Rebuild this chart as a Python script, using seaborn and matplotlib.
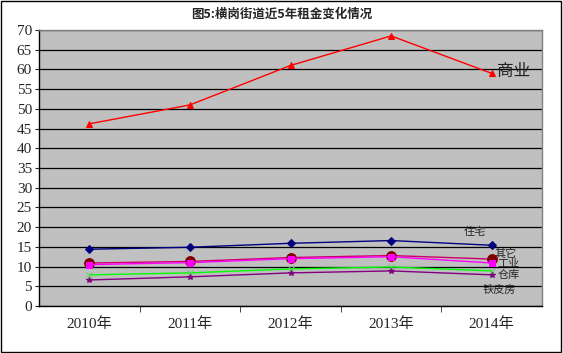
import numpy as np
import pandas as pd
import matplotlib
matplotlib.use("Agg")
import matplotlib.pyplot as plt
import seaborn as sns

years = ['2010年', '2011年', '2012年', '2013年', '2014年']
shangye = [46.2, 51, 61, 68.5, 59]
zhuzhai = [14.4, 14.9, 15.9, 16.6, 15.4]
qita = [10.9, 11.3, 12.3, 12.8, 11.9]
gongye = [10.5, 11.0, 12.0, 12.5, 10.9]
cangku = [7.9, 8.4, 9.4, 9.9, 8.9]
tiepifang = [6.6, 7.4, 8.4, 8.9, 7.9]

series_names = ['商业', '住宅', '其它', '工业', '仓库', '铁皮房']
series_vals = [shangye, zhuzhai, qita, gongye, cangku, tiepifang]

sns.set_style("white")
plt.rcParams['font.family'] = ['Liberation Serif', 'Noto Sans CJK SC']

fig = plt.figure(figsize=(5.63, 3.53), dpi=100)
ax = fig.add_axes([39 / 563, 1 - 306 / 353, 503 / 563, 276 / 353])
ax.set_facecolor('#C0C0C0')

x = np.arange(len(years))
colors = ['#FF0000', '#000080', '#CC0066', '#FF00FF', '#00FF00', '#800080']
mcolors = ['#FF0000', '#000080', '#800000', '#FF00FF', '#66CC66', '#800080']
markers = ['^', 'D', 'o', 's', 'x', '*']
msizes = [5, 4, 7, 5, 4, 4]

# magenta first so that the dark red line sits on top
order = [4, 5, 3, 2, 1, 0]
for i in order:
    sns.lineplot(x=x, y=series_vals[i], ax=ax, color=colors[i], lw=1.0,
                 marker=markers[i], markersize=msizes[i],
                 markerfacecolor=mcolors[i], markeredgecolor=mcolors[i],
                 legend=False, zorder=3 + i)

ax.set_xlim(-0.5, 4.5)
ax.set_ylim(0, 70)
ax.set_yticks(np.arange(0, 71, 5))
ax.yaxis.grid(True, color='black', lw=0.9)
ax.set_axisbelow(True)
ax.tick_params(axis='y', length=3, labelsize=11, pad=2, left=True)
ax.set_xticks(x)
ax.set_xticklabels(years)
ax.set_xticks(np.arange(0.5, 4.5, 1), minor=True)
ax.tick_params(axis='x', which='major', length=0, labelsize=11, pad=8)
ax.tick_params(axis='x', which='minor', length=4, direction='out', bottom=True)
ax.set_xlabel('')
ax.set_ylabel('')
for s in ['left', 'bottom']:
    ax.spines[s].set_color('black')
    ax.spines[s].set_linewidth(1.0)
for s in ['top', 'right']:
    ax.spines[s].set_color('#808080')
    ax.spines[s].set_linewidth(1.0)

lab_font = ['Noto Sans CJK SC']
ax.text(4.05, 59.5, '商业', fontsize=12, family=lab_font, va='center', ha='left', color='#202020')
ax.text(3.72, 18.8, '住宅', fontsize=8, family=lab_font, va='center', ha='left')
ax.text(4.03, 13.4, '其它', fontsize=8, family=lab_font, va='center', ha='left')
ax.text(4.06, 10.7, '工业', fontsize=8, family=lab_font, va='center', ha='left')
ax.text(4.06, 7.9, '仓库', fontsize=8, family=lab_font, va='center', ha='left')
ax.text(3.91, 4.1, '铁皮房', fontsize=8, family=lab_font, va='center', ha='left')

fig.text(0.5, 1 - 14 / 353, '图5:横岗街道近5年租金变化情况', fontsize=9,
         fontweight='bold', family=lab_font, ha='center', va='center')

fig.patches.append(plt.Rectangle((0.002, 0.003), 0.995, 0.994, transform=fig.transFigure,
                                 fill=False, edgecolor='black', lw=1.0))

fig.savefig('out.png', dpi=100)
